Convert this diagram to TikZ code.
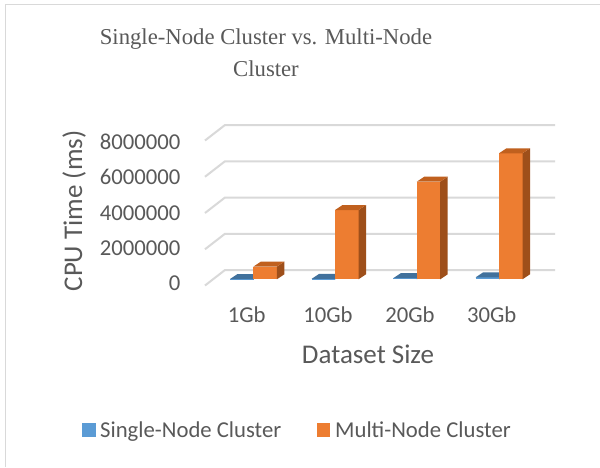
\documentclass[tikz,border=0pt]{standalone}
\usepackage{fontspec}
\setmainfont{Carlito}
\newfontfamily\titlefont{Liberation Serif}
\definecolor{gridc}{HTML}{D9D9D9}
\definecolor{txt}{HTML}{595959}
\definecolor{blueF}{HTML}{5B9BD5}
\definecolor{blueT}{HTML}{41719C}
\definecolor{blueS}{HTML}{3F6E98}
\definecolor{orF}{HTML}{ED7D31}
\definecolor{orT}{HTML}{C0601E}
\definecolor{orS}{HTML}{9E4F1A}
\begin{document}
\begin{tikzpicture}[x=1pt,y=-1pt,
  lbl/.style={text=txt,font=\fontsize{22.7}{27}\selectfont,inner sep=0pt},
  axt/.style={text=txt,font=\fontsize{27}{32}\selectfont,inner sep=0pt},
  ttl/.style={text=txt,font=\titlefont\fontsize{22.7}{27}\selectfont,inner sep=0pt},
  grid/.style={draw=gridc,line width=2pt},
  frame/.style={draw=gridc,line width=1.2pt}]
\useasboundingbox (0,0) rectangle (600,467);
\fill[white] (0,0) rectangle (600,467);
\draw[frame] (5.5,467) -- (5.5,4.5) -- (600,4.5);
% title
\node[ttl,anchor=base] (t1) at (266,44) {Single-Node Cluster vs. Multi-Node};
\node[ttl,anchor=base] (t2) at (266,76.5) {Cluster};
% gridlines
\foreach \k in {0,...,4}{
  \draw[grid] (205,{140.5+\k*36.25}) -- (225,{125+\k*36.25}) -- (555,{125+\k*36.25});
}
% value labels
\foreach \v [count=\i from 0] in {8000000,6000000,4000000,2000000,0}{
  \node[lbl,anchor=east] (v\i) at (180.5,{142+\i*35.4}) {\v};
}
% blue bars
\foreach \x/\h in {230/0.3, 311.7/0.5, 393.4/1.2, 475.7/2}{
  \fill[blueF] (\x,279.3) rectangle (\x+23.5,279.3-\h);
  \fill[blueS] (\x+23.5,279.3) -- (\x+31,274.3) -- (\x+31,274.3-\h) -- (\x+23.5,279.3-\h) -- cycle;
  \fill[blueT] (\x,279.3-\h) -- (\x+7.5,274.3-\h) -- (\x+31,274.3-\h) -- (\x+23.5,279.3-\h) -- cycle;
}
% orange bars
\foreach \x/\h in {253.3/12.6, 335/69.3, 416.7/97.6, 499/126}{
  \fill[orF] (\x,279.3) rectangle (\x+23.5,279.3-\h);
  \fill[orS] (\x+23.5,279.3) -- (\x+31,274.3) -- (\x+31,274.3-\h) -- (\x+23.5,279.3-\h) -- cycle;
  \fill[orT] (\x,279.3-\h) -- (\x+7.5,274.3-\h) -- (\x+31,274.3-\h) -- (\x+23.5,279.3-\h) -- cycle;
}
% category labels
\node[lbl,anchor=base] (c1) at (246.7,322) {1Gb};
\node[lbl,anchor=base] (c2) at (328,322) {10Gb};
\node[lbl,anchor=base] (c3) at (410,322) {20Gb};
\node[lbl,anchor=base] (c4) at (491.7,322) {30Gb};
\node[axt,anchor=base] (xt) at (368,363.5) {Dataset Size};
\node[axt,rotate=90] (yt) at (74,211) {CPU Time (ms)};
% legend
\fill[blueF] (82.3,423.3) rectangle (95.7,436.7);
\node[lbl,anchor=base west] (l1) at (100,437) {Single-Node Cluster};
\fill[orF] (316.7,423.3) rectangle (330,436.7);
\node[lbl,anchor=base west] (l2) at (335,437) {Multi-Node Cluster};
\end{tikzpicture}
\end{document}
